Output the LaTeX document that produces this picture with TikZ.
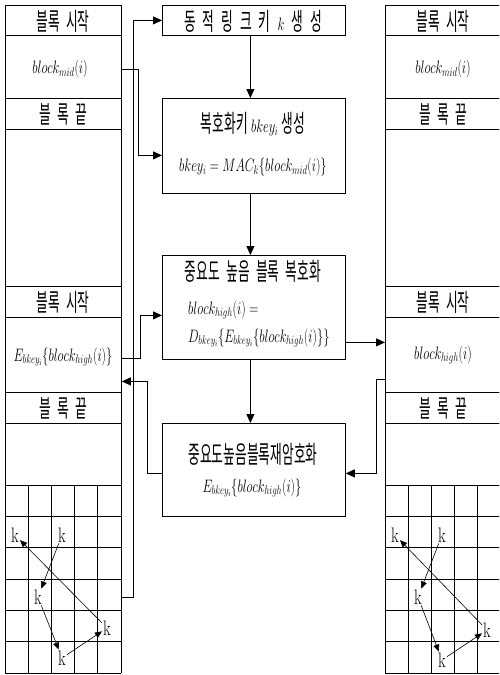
\RequirePackage{fix-cm}
\documentclass[tikz,border=0pt]{standalone}
\usepackage{fontspec}
\newfontfamily\kr[FakeStretch=0.52,WordSpace=2.2]{Noto Sans CJK KR}
\usetikzlibrary{arrows.meta,calc}
\newcommand{\mth}[1]{\scalebox{0.7}[1]{\fontsize{18}{21}\selectfont$#1$}}
\newcommand{\krs}[1]{{\fontsize{24.5}{27}\selectfont\kr #1}}
\newcommand{\gsp}{\hspace{7pt}}
\newcommand{\kk}{\scalebox{0.75}[1]{\fontsize{21}{21}\selectfont k}}
\tikzset{
  cell/.style={draw, line width=0.8pt, minimum width=116pt, inner sep=0pt, anchor=north west},
  box/.style={draw, line width=0.8pt, minimum width=183pt, inner sep=0pt, anchor=north west},
  arr/.style={-{Triangle[length=9pt,width=8pt]}, line width=0.8pt},
  karr/.style={-{Triangle[length=7pt,width=6pt]}, line width=0.6pt},
  knode/.style={inner sep=1pt},
  gridline/.style={line width=0.9pt},
  lbl/.style={inner sep=0pt}
}
\begin{document}
\begin{tikzpicture}[x=1pt,y=-1pt]
\clip (0,0) rectangle (499,675);
\fill[white] (0,0) rectangle (499,675);
% ---------- left column ----------
\node[cell, minimum height=30pt] (L1) at (5,5) {};
\node[cell, minimum height=63pt] (L2) at (5,35) {};
\node[cell, minimum height=31pt] (L3) at (5,98) {};
\node[cell, minimum height=157pt] (L4) at (5,129) {};
\node[cell, minimum height=31pt] (L5) at (5,286) {};
\node[cell, minimum height=75pt] (L6) at (5,317) {};
\node[cell, minimum height=31pt] (L7) at (5,392) {};
\node[cell, minimum height=62pt] (L8) at (5,423) {};
\node[lbl] (L1t) at (63,21) {\krs{블록 시작}};
\node[lbl] (L2t) at (60,69) {\mth{block_{mid}(i)}};
\node[lbl] (L3t) at (63,114) {\krs{블 록 끝}};
\node[lbl] (L5t) at (63,302) {\krs{블록 시작}};
\node[lbl] (L6t) at (63,357) {\mth{E_{bkey_i}\{block_{high}(i)\}}};
\node[lbl] (L7t) at (63,408) {\krs{블 록 끝}};
% left grid
\foreach \i in {0,...,6} \draw[gridline] (5,485+31.33*\i) -- (121,485+31.33*\i);
\foreach \j in {0,...,5} \draw[gridline] (5+23.2*\j,485) -- (5+23.2*\j,673);
\node[knode] (kL1) at (15,535) {\kk};
\node[knode] (kL2) at (62,535) {\kk};
\node[knode] (kL3) at (38,597) {\kk};
\node[knode] (kL4) at (107,628) {\kk};
\node[knode] (kL5) at (62,658) {\kk};
\draw[karr] (kL2) -- (kL3);
\draw[karr] (kL4) -- (kL1);
\draw[karr] (kL3) -- (kL5);
\draw[karr] (kL5) -- (kL4);
% ---------- right column ----------
\node[cell, minimum height=30pt] (R1) at (385,5) {};
\node[cell, minimum height=63pt] (R2) at (385,35) {};
\node[cell, minimum height=31pt] (R3) at (385,98) {};
\node[cell, minimum height=157pt] (R4) at (385,129) {};
\node[cell, minimum height=31pt] (R5) at (385,286) {};
\node[cell, minimum height=75pt] (R6) at (385,317) {};
\node[cell, minimum height=31pt] (R7) at (385,392) {};
\node[cell, minimum height=62pt] (R8) at (385,423) {};
\node[lbl] (R1t) at (443,21) {\krs{블록 시작}};
\node[lbl] (R2t) at (443,69) {\mth{block_{mid}(i)}};
\node[lbl] (R3t) at (443,114) {\krs{블 록 끝}};
\node[lbl] (R5t) at (443,302) {\krs{블록 시작}};
\node[lbl] (R6t) at (443,355) {\mth{block_{high}(i)}};
\node[lbl] (R7t) at (443,408) {\krs{블 록 끝}};
\foreach \i in {0,...,6} \draw[gridline] (385,485+31.33*\i) -- (501,485+31.33*\i);
\foreach \j in {0,...,5} \draw[gridline] (385+23.2*\j,485) -- (385+23.2*\j,673);
\node[knode] (kR1) at (395,535) {\kk};
\node[knode] (kR2) at (442,535) {\kk};
\node[knode] (kR3) at (418,597) {\kk};
\node[knode] (kR4) at (487,630) {\kk};
\node[knode] (kR5) at (442,660) {\kk};
\draw[karr] (kR2) -- (kR3);
\draw[karr] (kR4) -- (kR1);
\draw[karr] (kR3) -- (kR5);
\draw[karr] (kR5) -- (kR4);
% ---------- middle boxes ----------
\node[box, minimum height=30pt] (b1) at (162,5) {};
\node[box, minimum height=95pt] (b2) at (162,98) {};
\node[box, minimum height=104pt] (b3) at (162,255) {};
\node[box, minimum height=93pt] (b4) at (162,423) {};
\node[lbl] (b1t) at (253,21) {\krs{동\gsp 적\gsp 링\gsp 크\gsp 키}\gsp\mth{k}\gsp\krs{생\gsp 성}};
\node[lbl] (b2t) at (253,124) {\krs{복호화키} \mth{bkey_i} \krs{생성}};
\node[lbl] (b2m) at (253,167) {\mth{bkey_i = MAC_k\{block_{mid}(i)\}}};
\node[lbl] (b3t) at (253,271) {\krs{중요도 높음 블록 복호화}};
\node[lbl, anchor=west] (b3m1) at (188,310) {\mth{block_{high}(i) =}};
\node[lbl, anchor=west] (b3m2) at (188,338) {\mth{D_{bkey_i}\{E_{bkey_i}\{block_{high}(i)\}\}}};
\node[lbl] (b4t) at (253,454) {\krs{중요도높음블록재암호화}};
\node[lbl] (b4m) at (252,488) {\mth{E_{bkey_i}\{block_{high}(i)\}}};
% ---------- connectors ----------
\coordinate (gA) at (121,597);
\draw[arr] (gA) -- ++(12,0) |- (b1.west);
\draw[arr] ([yshift=-2.5pt]L2.east) -- ++(17,0) |- ([yshift=-9.5pt]b2.west);
\draw[arr] ([xshift=-3.5pt]b1.south) -- ([xshift=-3.5pt]b2.north);
\draw[arr] ([xshift=-3.5pt]b2.south) -- ([xshift=-3.5pt]b3.north);
\draw[arr] ([xshift=-3.5pt]b3.south) -- ([xshift=-3.5pt]b4.north);
\draw[arr] ([yshift=-3.5pt]L6.east) -- ++(19,0) |- ([yshift=-8pt]b3.west);
\coordinate (f1) at ([yshift=-35pt]b3.east);
\draw[arr] (f1) -- (f1 -| R6.west);
\coordinate (g1) at ([yshift=-24.5pt]R6.west);
\draw[arr] (g1) -- ++(-9,0) |- ([yshift=-3.5pt]b4.east);
\draw[arr] ([yshift=-3.5pt]b4.west) -- ++(-15,0) |- ([yshift=-26.5pt]L6.east);
\end{tikzpicture}
\end{document}
